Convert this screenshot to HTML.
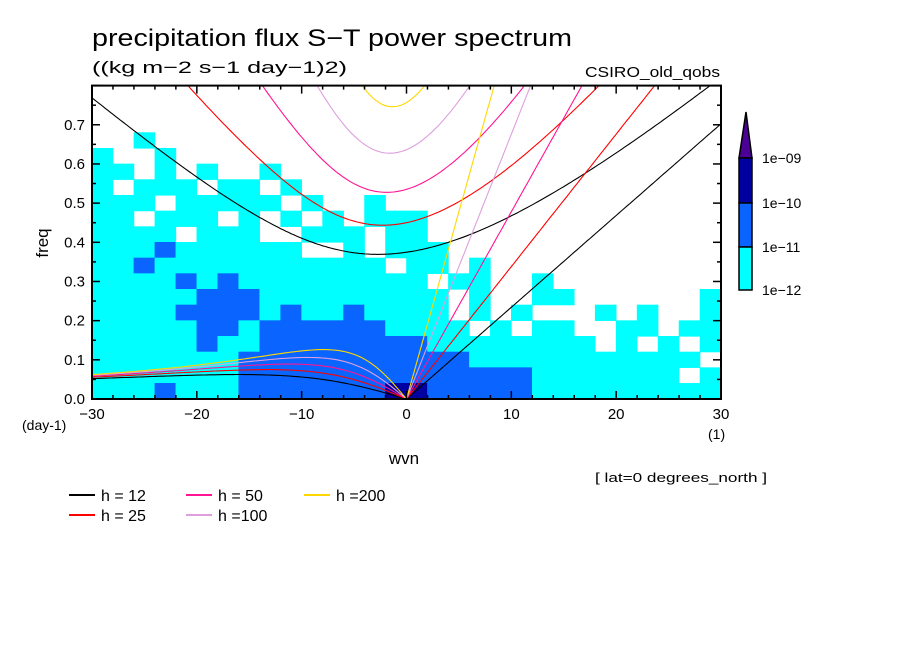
<!DOCTYPE html>
<html><head><meta charset="utf-8">
<style>
body{margin:0;background:#fff;}
svg{display:block;font-family:"Liberation Sans","DejaVu Sans",sans-serif;}
</style></head>
<body>
<svg id="chart" width="904" height="654" viewBox="0 0 904 654">
<text x="92" y="46" font-size="24" textLength="480" lengthAdjust="spacingAndGlyphs">precipitation flux S−T power spectrum</text>
<text x="92" y="73" font-size="17" textLength="255" lengthAdjust="spacingAndGlyphs">((kg m−2 s−1 day−1)2)</text>
<text x="585" y="77" font-size="15" textLength="135" lengthAdjust="spacingAndGlyphs">CSIRO_old_qobs</text>
<g id="cells"></g>
<g id="curves"></g>
<rect x="92" y="85.6" width="629" height="313.4" fill="none" stroke="#000" stroke-width="2"/>
<g id="ticks"></g>
<text x="48" y="243" font-size="17" text-anchor="middle" transform="rotate(-90 48 243)">freq</text>
<text x="404" y="464" font-size="17" text-anchor="middle">wvn</text>
<text x="22" y="430" font-size="14">(day-1)</text>
<text x="708" y="439" font-size="14">(1)</text>
<text x="595" y="482" font-size="13" textLength="172" lengthAdjust="spacingAndGlyphs">[ lat=0 degrees_north ]</text>
<g id="legend"></g>
<g id="colorbar"></g>
</svg>
<script>
const depths=[12,25,50,100,200];
const depthColors=["#000000","#ff0000","#ff1493","#dda0dd","#ffd700"];
const legendLabels=["h = 12","h = 25","h = 50","h =100","h =200"];
const xTicks=[-30,-20,-10,0,10,20,30];
const yTicks=[0,0.1,0.2,0.3,0.4,0.5,0.6,0.7];
const yTickLabels=["0.0","0.1","0.2","0.3","0.4","0.5","0.6","0.7"];
const cbLabels=["1e-09","1e-10","1e-11","1e-12"];
const levelColors=["none","#00ffff","#0a64ff","#0000a0"];
const grid=[
"000000000000000000000000000000",
"000000000000000000000000000000",
"000000000000000000000000000000",
"001000000000000000000000000000",
"100100000000000000000000000000",
"110101001000000000000000000000",
"101110110100000000000000000000",
"111011111010010000000000000000",
"110111010101011100000000000000",
"111101110011101100000000000000",
"111211111100101110000000000000",
"112111111111110110100000000000",
"111121211111111101100100000000",
"111112221111111110100110000001",
"111122221211211110101000101001",
"111112212222221111010110011011",
"111112112222222211111111010101",
"111111122222222222111111111110",
"111111122222222222222111111101",
"111211122222223322222111111111"];
const NS="http://www.w3.org/2000/svg";
const X0=92,X1=721,Y0=399,Y1=85.6,KMIN=-30,KMAX=30,FMAX=0.8;
const sx=k=>X0+(k-KMIN)/(KMAX-KMIN)*(X1-X0);
const sy=f=>Y0-f/FMAX*(Y0-Y1);
function mk(t,a,p){const e=document.createElementNS(NS,t);for(const k in a)e.setAttribute(k,a[k]);(p||document.getElementById('chart')).appendChild(e);return e;}
const defs=mk('defs',{});const cp=mk('clipPath',{id:'pc'},defs);mk('rect',{x:X0,y:Y1,width:X1-X0,height:Y0-Y1},cp);
const cells=document.getElementById('cells');cells.setAttribute('clip-path','url(#pc)');
const nR=grid.length,nC=grid[0].length,dk=(KMAX-KMIN)/nC,df=FMAX/nR;
grid.forEach((row,r)=>{for(let c=0;c<nC;c++){const v=+row[c];if(!v)continue;
const k=KMIN+c*dk,f=FMAX-(r+1)*df;
const e=mk('rect',{x:sx(k)-0.3,y:sy(f+df)-0.3,width:sx(k+dk)-sx(k)+0.6,height:sy(f)-sy(f+df)+0.6,fill:levelColors[v]},cells);

}});
const curves=document.getElementById('curves');curves.setAttribute('clip-path','url(#pc)');
const g=9.81,beta=2.28e-11,R=6.371e6,toC=86400/(2*Math.PI);
depths.forEach((h,i)=>{const c=Math.sqrt(g*h);const col=depthColors[i];
let kel=[],ig=[],ros=[];
for(let k=0;k<=30;k+=0.25)kel.push([k,c*k/R*toC]);
for(let k=-30;k<=30;k+=0.25){const kr=k/R;let w=Math.sqrt(3*beta*c+c*c*kr*kr);for(let j=0;j<20;j++)w=Math.sqrt(3*beta*c+c*c*kr*kr+beta*c*c*kr/w);ig.push([k,w*toC]);}
for(let k=-30;k<=0;k+=0.25){const kr=k/R;ros.push([k,-beta*kr/(kr*kr+3*beta/c)*toC]);}
[[kel,'kelvin'],[ig,'inertia-gravity'],[ros,'rossby']].forEach(([pts,nm])=>{
const e=mk('polyline',{points:pts.map(p=>sx(p[0]).toFixed(1)+','+sy(p[1]).toFixed(1)).join(' '),fill:'none',stroke:col,'stroke-width':1.1},curves);

});});
const tk=document.getElementById('ticks');
for(let k=KMIN;k<=KMAX;k+=2){const L=(k%10===0)?8:4;
mk('line',{x1:sx(k),y1:Y0,x2:sx(k),y2:Y0-L,stroke:'#000','stroke-width':1.5},tk);
mk('line',{x1:sx(k),y1:Y1,x2:sx(k),y2:Y1+L,stroke:'#000','stroke-width':1.5},tk);}
for(let j=0;j<=16;j++){const f=j*0.05,L=(j%2===0)?8:4;
mk('line',{x1:X0,y1:sy(f),x2:X0+L,y2:sy(f),stroke:'#000','stroke-width':1.5},tk);
mk('line',{x1:X1,y1:sy(f),x2:X1-L,y2:sy(f),stroke:'#000','stroke-width':1.5},tk);}
xTicks.forEach(k=>{const t=mk('text',{x:sx(k),y:419,'font-size':15,'text-anchor':'middle'},tk);t.textContent=(k<0?'−':'')+Math.abs(k);

});
yTicks.forEach((f,i)=>{const t=mk('text',{x:85,y:sy(f)+5,'font-size':15,'text-anchor':'end'},tk);t.textContent=yTickLabels[i];

});
const lg=document.getElementById('legend');
const lpos=[[69,495],[69,515],[186,495],[186,515],[304,495]];
depths.forEach((h,i)=>{const [x,y]=lpos[i];
const ln=mk('line',{x1:x,y1:y,x2:x+26,y2:y,stroke:depthColors[i],'stroke-width':2},lg);


const t=mk('text',{x:x+32,y:y+6,'font-size':16},lg);t.textContent=legendLabels[i];

});
const cb=document.getElementById('colorbar');
mk('polygon',{points:'739,158 752,158 746,112',fill:'#4b0096',stroke:'#000','stroke-width':1.5},cb);
const bnds=[158,203,247,290],bcol=["#0000a0","#0a64ff","#00ffff"];
for(let i=0;i<3;i++){const r=mk('rect',{x:739,y:bnds[i],width:13,height:bnds[i+1]-bnds[i],fill:bcol[i],stroke:'#000','stroke-width':1.5},cb);

}
cbLabels.forEach((s,i)=>{const t=mk('text',{x:762,y:bnds[i]+5,'font-size':14},cb);t.textContent=s.replace('-','−');

});
</script>
</body></html>
